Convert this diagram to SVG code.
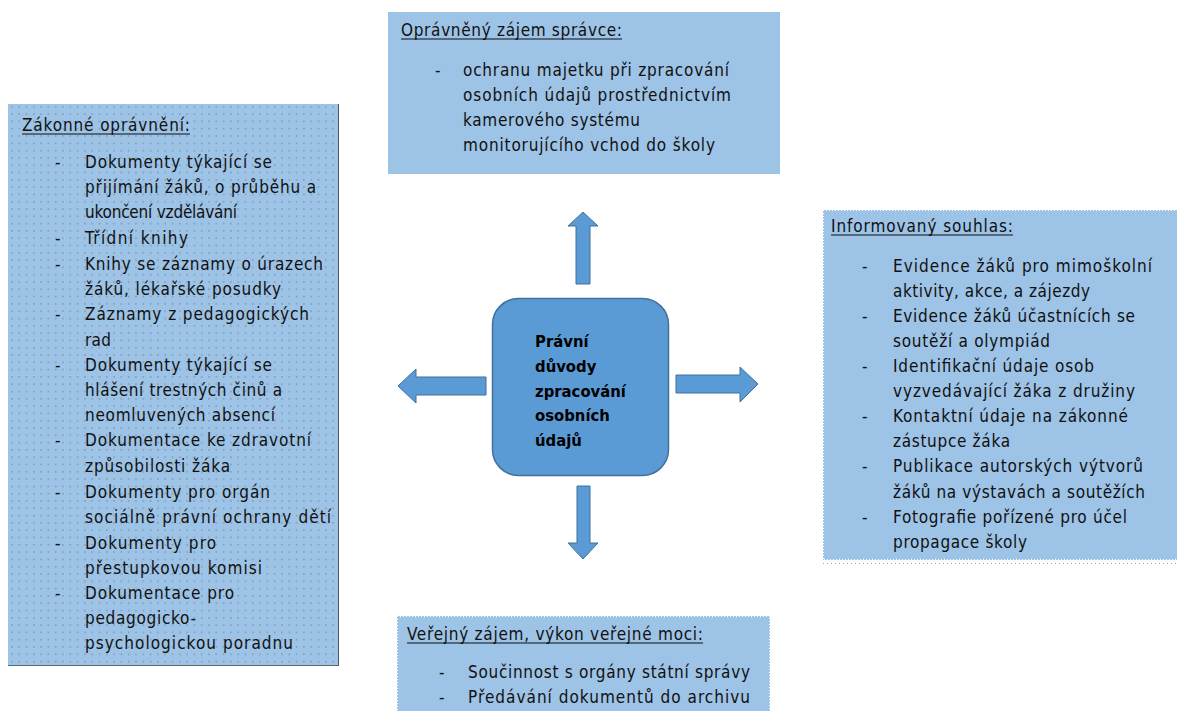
<svg xmlns="http://www.w3.org/2000/svg" width="1177" height="711" viewBox="0 0 1177 711">
<defs>
<pattern id="dots" x="1" y="1" width="7.3" height="7.3" patternUnits="userSpaceOnUse">
<rect x="3" y="3" width="1.2" height="1.2" fill="#6f7f90"/>
</pattern>
</defs>
<style>
.box{fill:#9dc3e6}
.t{font-family:"DejaVu Sans Condensed","DejaVu Sans",sans-serif;font-stretch:condensed;font-size:17px;fill:#111}
.u{stroke:#111;stroke-width:1.2}
.c{font-family:"DejaVu Sans Condensed","DejaVu Sans",sans-serif;font-stretch:condensed;font-size:16.5px;font-weight:bold;fill:#000}
.arr{fill:#5b9bd5;stroke:#41719c;stroke-width:1}
.fz{fill:none;stroke:#ffffff;stroke-width:2;stroke-dasharray:1 2}
</style>
<rect width="1177" height="711" fill="#ffffff"/>
<g id="center">
<rect x="492.5" y="298.5" width="176" height="177" rx="26" fill="#5b9bd5" stroke="#41719c" stroke-width="1.5"/>
<text class="c" x="535" y="347">Právní</text>
<text class="c" x="535" y="372">důvody</text>
<text class="c" x="535" y="397">zpracování</text>
<text class="c" x="535" y="421">osobních</text>
<text class="c" x="535" y="446">údajů</text>
</g>
<g id="connectors">
<polygon class="arr" points="576,284 576,226 568,226 583,212 598,226 590,226 590,284"/>
<polygon class="arr" points="486,377 416,377 416,369 398,386 416,403 416,395 486,395"/>
<polygon class="arr" points="676,375 740,375 740,367 758,384 740,402 740,393 676,393"/>
<polygon class="arr" points="577,486 577,543 568,543 583,559 598,543 590,543 590,486"/>
</g>
<g id="left">
<rect class="box" x="8" y="104" width="331" height="562"/>
<rect x="8" y="104" width="331" height="562" fill="url(#dots)"/>
<line x1="338.5" y1="104" x2="338.5" y2="666" stroke="#4a5a6a" stroke-width="1"/>
<line x1="8" y1="665.5" x2="339" y2="665.5" stroke="#5a6a7a" stroke-width="1"/>
<text class="t" x="22" y="131" textLength="168">Zákonné oprávnění:</text>
<line class="u" x1="22" y1="134" x2="190" y2="134"/>
<g class="t">
<text x="55" y="168">-</text><text x="85" y="168" textLength="187">Dokumenty týkající se</text>
<text x="85" y="193" textLength="231">přijímání žáků, o průběhu a</text>
<text x="85" y="218" textLength="152">ukončení vzdělávání</text>
<text x="55" y="244">-</text><text x="85" y="244" textLength="103">Třídní knihy</text>
<text x="55" y="270">-</text><text x="85" y="270" textLength="238">Knihy se záznamy o úrazech</text>
<text x="85" y="295" textLength="196">žáků, lékařské posudky</text>
<text x="55" y="320">-</text><text x="85" y="320" textLength="224">Záznamy z pedagogických</text>
<text x="85" y="346" textLength="26">rad</text>
<text x="55" y="371">-</text><text x="85" y="371" textLength="187">Dokumenty týkající se</text>
<text x="85" y="396" textLength="197">hlášení trestných činů a</text>
<text x="85" y="421" textLength="190">neomluvených absencí</text>
<text x="55" y="446">-</text><text x="85" y="446" textLength="226">Dokumentace ke zdravotní</text>
<text x="85" y="472" textLength="145">způsobilosti žáka</text>
<text x="55" y="498">-</text><text x="85" y="498" textLength="185">Dokumenty pro orgán</text>
<text x="85" y="523" textLength="246">sociálně právní ochrany dětí</text>
<text x="55" y="549">-</text><text x="85" y="549" textLength="131">Dokumenty pro</text>
<text x="85" y="574" textLength="177">přestupkovou komisi</text>
<text x="55" y="599">-</text><text x="85" y="599" textLength="149">Dokumentace pro</text>
<text x="85" y="624" textLength="111">pedagogicko-</text>
<text x="85" y="649" textLength="208">psychologickou poradnu</text>
</g>
</g>
<g id="top">
<rect class="box" x="388" y="12" width="392" height="162"/>
<text class="t" x="401" y="36" textLength="221">Oprávněný zájem správce:</text>
<line class="u" x1="401" y1="39" x2="622" y2="39"/>
<g class="t">
<text x="435" y="76">-</text><text x="463" y="76" textLength="266">ochranu majetku při zpracování</text>
<text x="463" y="101" textLength="268">osobních údajů prostřednictvím</text>
<text x="463" y="126" textLength="177">kamerového systému</text>
<text x="463" y="151" textLength="252">monitorujícího vchod do školy</text>
</g>
</g>
<g id="right">
<rect class="box" x="823" y="210" width="354" height="350"/>
<rect class="fz" x="823" y="210" width="360" height="350"/>
<line x1="823" y1="563.5" x2="1177" y2="563.5" stroke="#9aa6b2" stroke-width="1" stroke-dasharray="1 3"/>
<text class="t" x="831" y="232" textLength="182">Informovaný souhlas:</text>
<line class="u" x1="831" y1="235" x2="1013" y2="235"/>
<g class="t">
<text x="862" y="272">-</text><text x="893" y="272" textLength="259">Evidence žáků pro mimoškolní</text>
<text x="893" y="297" textLength="197">aktivity, akce, a zájezdy</text>
<text x="862" y="322">-</text><text x="893" y="322" textLength="242">Evidence žáků účastnících se</text>
<text x="893" y="347" textLength="157">soutěží a olympiád</text>
<text x="862" y="372">-</text><text x="893" y="372" textLength="201">Identifikační údaje osob</text>
<text x="893" y="397" textLength="242">vyzvedávající žáka z družiny</text>
<text x="862" y="422">-</text><text x="893" y="422" textLength="235">Kontaktní údaje na zákonné</text>
<text x="893" y="447" textLength="117">zástupce žáka</text>
<text x="862" y="472">-</text><text x="893" y="472" textLength="250">Publikace autorských výtvorů</text>
<text x="893" y="498" textLength="252">žáků na výstavách a soutěžích</text>
<text x="862" y="523">-</text><text x="893" y="523" textLength="234">Fotografie pořízené pro účel</text>
<text x="893" y="548" textLength="134">propagace školy</text>
</g>
</g>
<g id="bottom">
<rect class="box" x="397" y="616" width="373" height="95"/>
<rect class="fz" x="397" y="616" width="373" height="100"/>
<text class="t" x="407" y="640" textLength="296">Veřejný zájem, výkon veřejné moci:</text>
<line class="u" x1="407" y1="643" x2="703" y2="643"/>
<g class="t">
<text x="439" y="678">-</text><text x="468" y="678" textLength="282">Součinnost s orgány státní správy</text>
<text x="439" y="703">-</text><text x="468" y="703" textLength="282">Předávání dokumentů do archivu</text>
</g>
</g>
</svg>
